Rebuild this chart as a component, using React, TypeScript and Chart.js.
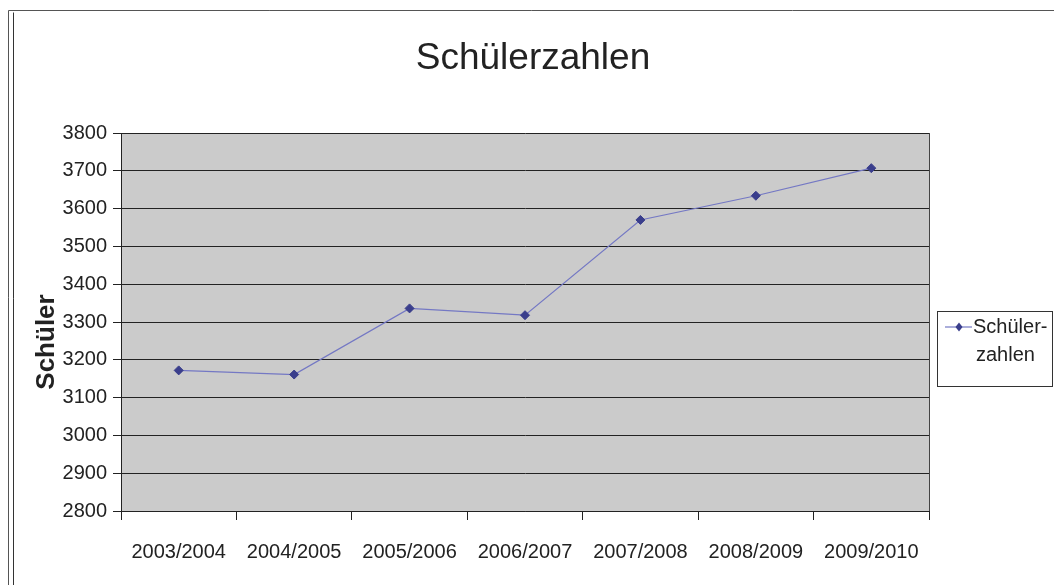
import React, { useEffect, useRef } from "react";
import { Chart, registerables } from "chart.js";

Chart.register(...registerables);

const TITLE = "Schülerzahlen";
const Y_TITLE = "Schüler";
const SERIES_LABEL = "Schülerzahlen";
const LEGEND_LINES = ["Schüler-", "zahlen"];
const categories = [
  "2003/2004",
  "2004/2005",
  "2005/2006",
  "2006/2007",
  "2007/2008",
  "2008/2009",
  "2009/2010",
];
const students = [3172, 3161, 3336, 3318, 3570, 3634, 3707];
const Y_MIN = 2800;
const Y_MAX = 3800;
const Y_STEP = 100;

const FONT = "'Liberation Sans', Arial, sans-serif";
const LINE_COLOR = "#7478c4";
const POINT_COLOR = "#3a3e8c";
const PLOT_BG = "#cbcbcb";

const decorPlugin = {
  id: "decor",
  beforeDraw(chart: any) {
    const { ctx, chartArea } = chart;
    ctx.save();
    ctx.fillStyle = "#ffffff";
    ctx.fillRect(0, 0, chart.width, chart.height);
    ctx.fillStyle = PLOT_BG;
    ctx.fillRect(chartArea.left, chartArea.top, chartArea.right - chartArea.left, chartArea.bottom - chartArea.top);
    ctx.restore();
  },
  afterDraw(chart: any) {
    const { ctx, chartArea } = chart;
    ctx.save();
    // outer frame
    ctx.strokeStyle = "#555";
    ctx.lineWidth = 1;
    ctx.beginPath();
    ctx.moveTo(8.5, chart.height);
    ctx.lineTo(8.5, 10.5);
    ctx.lineTo(chart.width, 10.5);
    ctx.stroke();
    ctx.strokeStyle = "#333";
    ctx.beginPath();
    ctx.moveTo(13.5, chart.height);
    ctx.lineTo(13.5, 12.5);
    ctx.stroke();
    // plot right border
    ctx.strokeStyle = "#444";
    ctx.beginPath();
    ctx.moveTo(chartArea.right + 0.5, chartArea.top);
    ctx.lineTo(chartArea.right + 0.5, chartArea.bottom);
    ctx.stroke();
    // title
    ctx.fillStyle = "#222";
    ctx.font = `37px ${FONT}`;
    ctx.textAlign = "center";
    ctx.textBaseline = "alphabetic";
    ctx.fillText(TITLE, 533, 69);
    // y axis title
    ctx.save();
    ctx.translate(47, 342);
    ctx.rotate(-Math.PI / 2);
    ctx.font = `bold 26px ${FONT}`;
    ctx.textAlign = "center";
    ctx.textBaseline = "middle";
    ctx.fillText(Y_TITLE, 0, 0);
    ctx.restore();
    // legend
    const ds = chart.data.datasets[0];
    const bx = 937.5, by = 311.5, bw = 115, bh = 75;
    ctx.fillStyle = "#ffffff";
    ctx.fillRect(bx, by, bw, bh);
    ctx.strokeStyle = "#333";
    ctx.lineWidth = 1;
    ctx.strokeRect(bx, by, bw, bh);
    const ly = 327;
    ctx.strokeStyle = ds.borderColor;
    ctx.lineWidth = 1.2;
    ctx.beginPath();
    ctx.moveTo(945, ly);
    ctx.lineTo(972, ly);
    ctx.stroke();
    ctx.fillStyle = ds.pointBackgroundColor;
    ctx.beginPath();
    ctx.moveTo(959, ly - 4.5);
    ctx.lineTo(962.5, ly);
    ctx.lineTo(959, ly + 4.5);
    ctx.lineTo(955.5, ly);
    ctx.closePath();
    ctx.fill();
    ctx.fillStyle = "#222";
    ctx.font = `20px ${FONT}`;
    ctx.textAlign = "left";
    ctx.textBaseline = "middle";
    ctx.fillText(LEGEND_LINES[0], 973, ly);
    ctx.fillText(LEGEND_LINES[1], 976, ly + 28);
    ctx.restore();
  },
};

export default function App() {
  const ref = useRef<HTMLCanvasElement | null>(null);
  useEffect(() => {
    if (!ref.current) return;
    const chart = new Chart(ref.current, {
      type: "line",
      data: {
        labels: categories,
        datasets: [
          {
            label: SERIES_LABEL,
            data: students,
            borderColor: LINE_COLOR,
            borderWidth: 1.2,
            pointStyle: "rectRot",
            pointRadius: 4.5,
            pointBackgroundColor: POINT_COLOR,
            pointBorderColor: POINT_COLOR,
            pointBorderWidth: 1,
            tension: 0,
          },
        ],
      },
      options: {
        animation: false,
        responsive: false,
        layout: { padding: { left: 0, top: 133, right: 125, bottom: 0 } },
        plugins: {
          legend: { display: false },
          title: { display: false },
          tooltip: { enabled: false },
        },
        scales: {
          x: {
            offset: true,
            afterFit: (s: any) => {
              s.height = 74;
            },
            grid: {
              offset: true,
              drawOnChartArea: false,
              drawTicks: true,
              tickLength: 9,
              color: "#222",
            },
            border: { display: true, color: "#222", width: 1 },
            ticks: {
              color: "#222",
              font: { family: FONT, size: 20 },
              padding: 20,
              maxRotation: 0,
              autoSkip: false,
            },
          },
          y: {
            min: Y_MIN,
            max: Y_MAX,
            afterFit: (s: any) => {
              s.width = 121;
            },
            grid: {
              color: "#222",
              lineWidth: 1,
              drawTicks: true,
              tickLength: 8,
            },
            border: { display: true, color: "#222", width: 1 },
            ticks: {
              stepSize: Y_STEP,
              color: "#222",
              font: { family: FONT, size: 20 },
              padding: 6,
              callback: (v: any) => String(v),
            },
          },
        },
      },
      plugins: [decorPlugin],
    });
    return () => chart.destroy();
  }, []);
  return (
    <div style={{ position: "absolute", left: 0, top: 0, width: 1054, height: 585 }}>
      <canvas ref={ref} width={1054} height={585} style={{ display: "block" }} />
    </div>
  );
}
